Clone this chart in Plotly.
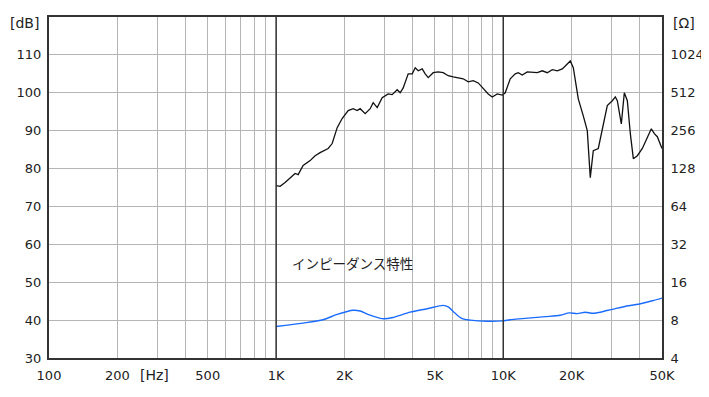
import plotly.graph_objects as go
import math

# SPL (dB) vs frequency (Hz)
spl_freq = [1000, 1041, 1095, 1212, 1250, 1315, 1412, 1485, 1562, 1695, 1765, 1857, 1953, 2076,
            2184, 2274, 2344, 2467, 2595, 2675, 2786, 2931, 3114, 3243, 3412, 3518, 3627, 3815,
            3973, 4096, 4223, 4398, 4533, 4673, 4916, 5171, 5440, 5723, 6020, 6335, 6664, 7011,
            7375, 7760, 8163, 8588, 8946, 9410, 9900, 10204, 10735, 11295, 11644, 12124, 12755,
            13424, 14122, 14855, 15622, 16443, 17297, 18195, 19140, 19734, 20344, 21400, 22512,
            23442, 24165, 24913, 26210, 27295, 28713, 30214, 31147, 31787, 33102, 34124, 35182,
            36270, 37390, 38937, 40960, 43093, 44875, 46260, 47690, 50000]
spl_db = [75.5, 75.3, 76.3, 78.7, 78.4, 80.8, 82.1, 83.4, 84.2, 85.3, 86.6, 90.8, 93.2, 95.3,
          95.8, 95.3, 95.8, 94.5, 95.8, 97.4, 96.1, 98.7, 99.7, 99.5, 100.8, 100.0, 101.3, 105.0,
          105.0, 106.6, 105.8, 106.3, 105.0, 104.0, 105.3, 105.5, 105.3, 104.5, 104.2, 103.9,
          103.7, 102.9, 103.2, 102.6, 101.0, 99.7, 98.9, 99.7, 99.4, 100.0, 103.7, 105.0, 105.3,
          104.7, 105.5, 105.3, 105.3, 105.8, 105.3, 106.1, 105.8, 106.3, 107.6, 108.4, 106.6,
          98.4, 93.9, 90.0, 77.6, 84.7, 85.3, 90.0, 96.6, 97.9, 98.9, 97.9, 91.8, 100.0, 97.9,
          89.2, 82.6, 83.4, 85.3, 88.2, 90.5, 89.2, 88.4, 85.3]

# Impedance (ohm) vs frequency (Hz)
imp_freq = [1000, 1315, 1611, 1857, 2184, 2344, 2595, 2931, 3276, 3893, 4626, 5440, 5723, 6143,
            6598, 7154, 8503, 9900, 10735, 12124, 15310, 17830, 19530, 21180, 22970, 24913,
            29010, 35540, 39330, 45340, 50000]
imp_ohm = [7.11, 7.57, 8.06, 8.88, 9.58, 9.45, 8.75, 8.22, 8.40, 9.25, 9.85, 10.48, 10.20, 9.06,
           8.22, 8.00, 7.84, 7.89, 8.06, 8.22, 8.52, 8.75, 9.13, 9.00, 9.25, 9.06, 9.58, 10.41,
           10.70, 11.39, 11.96]

grid_freqs = [200, 300, 400, 500, 600, 700, 800, 900, 1000, 2000, 3000, 4000, 5000, 6000,
              7000, 8000, 9000, 10000, 20000, 30000, 40000]
x_tick_vals = [100, 200, 500, 1000, 2000, 5000, 10000, 20000, 50000]
x_tick_text = ["100", "200", "500", "1K", "2K", "5K", "10K", "20K", "50K"]
db_ticks = [30, 40, 50, 60, 70, 80, 90, 100, 110]
ohm_ticks = [4, 8, 16, 32, 64, 128, 256, 512, 1024]
dark_lines = [1000, 10000]

FONT = "DejaVu Sans"
JFONT = "Noto Sans CJK JP"
TXT = "#222222"

fig = go.Figure()
fig.add_trace(go.Scatter(x=spl_freq, y=spl_db, mode="lines",
                         line=dict(color="#111111", width=1.3), xaxis="x", yaxis="y",
                         showlegend=False))
fig.add_trace(go.Scatter(x=imp_freq, y=imp_ohm, mode="lines",
                         line=dict(color="#1a6cff", width=1.4, shape="spline", smoothing=0.8),
                         xaxis="x", yaxis="y2", showlegend=False))

for f in dark_lines:
    fig.add_shape(type="line", xref="x", yref="paper", x0=f, x1=f, y0=0, y1=1,
                  line=dict(color="#333333", width=1.5), layer="above")

tickvals_x = sorted(set(grid_freqs + x_tick_vals))
ticktext_x = [x_tick_text[x_tick_vals.index(v)] if v in x_tick_vals else "" for v in tickvals_x]

# page body has an 8px margin, so the figure is sized/placed to compensate
fig.update_layout(
    width=701, height=389,
    margin=dict(l=41, r=47, t=9, b=39, autoexpand=False),
    paper_bgcolor="white", plot_bgcolor="white",
    font=dict(family=FONT, size=13, color=TXT),
    xaxis=dict(type="log", range=[2, math.log10(50000)], tickvals=tickvals_x,
               ticktext=ticktext_x, showgrid=True, gridcolor="#b5b5b5", gridwidth=1,
               showline=True, linecolor="#333333", linewidth=2, mirror=True,
               ticks="outside", ticklen=4, tickcolor="rgba(0,0,0,0)", zeroline=False,
               automargin=False, tickfont=dict(family=FONT, size=13, color=TXT)),
    yaxis=dict(range=[30, 120], tickvals=db_ticks, showgrid=True, gridcolor="#b5b5b5",
               gridwidth=1, showline=True, linecolor="#333333", linewidth=2, mirror=True,
               ticks="outside", ticklen=3, tickcolor="rgba(0,0,0,0)", zeroline=False,
               automargin=False, tickfont=dict(family=FONT, size=13, color=TXT)),
    yaxis2=dict(type="log", range=[math.log10(4), math.log10(2048)], tickvals=ohm_ticks,
                ticktext=[str(v) for v in ohm_ticks], overlaying="y", side="right",
                showgrid=False, zeroline=False, ticks="outside", ticklen=5,
                automargin=False, tickcolor="rgba(0,0,0,0)",
                tickfont=dict(family=FONT, size=13, color=TXT)),
)

fig.add_annotation(text="[dB]", xref="paper", yref="paper", x=-0.013, y=1.0,
                   xanchor="right", yanchor="middle", yshift=-6, showarrow=False,
                   font=dict(family=FONT, size=14, color=TXT))
fig.add_annotation(text="[Ω]", xref="paper", yref="paper", x=1.0, y=1.0,
                   xanchor="left", yanchor="middle", xshift=9, yshift=-6, showarrow=False,
                   font=dict(family=FONT, size=14, color=TXT))
fig.add_annotation(text="[Hz]", xref="paper", yref="paper", x=(154 - 49) / 612.7, y=0,
                   xanchor="center", yanchor="middle", yshift=-17, showarrow=False,
                   font=dict(family=FONT, size=14, color=TXT))
fig.add_annotation(text="インピーダンス特性", xref="paper", yref="paper",
                   x=(290 - 49) / 612.7, y=(358 - 263) / 341, xanchor="left",
                   yanchor="middle", showarrow=False,
                   font=dict(family=JFONT, size=13.5, color=TXT))

fig.write_html("out.html")
